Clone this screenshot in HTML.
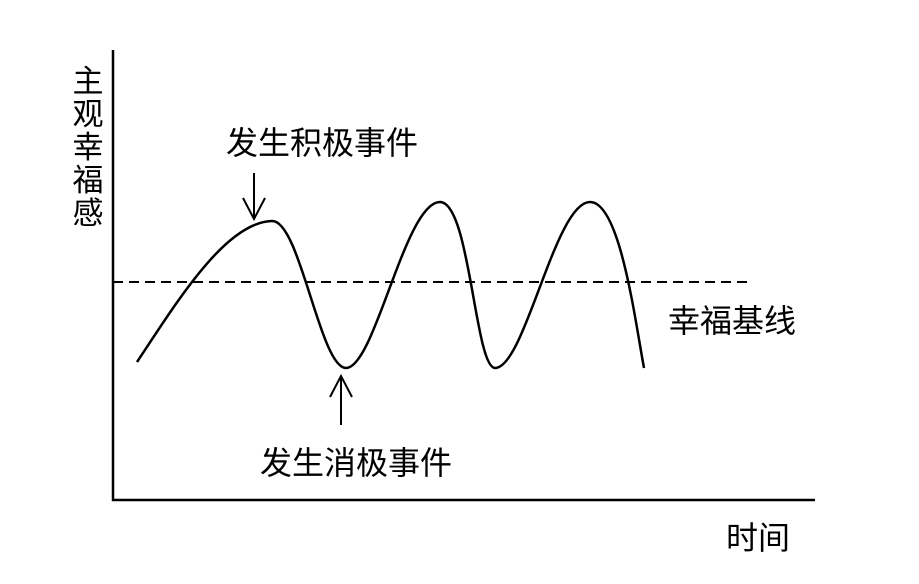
<!DOCTYPE html>
<html><head><meta charset="utf-8"><style>
html,body{margin:0;padding:0;background:#fff;}
svg{display:block;}
text{font-family:"Liberation Sans","Noto Sans CJK SC",sans-serif;fill:#000;}
</style></head><body>
<svg width="919" height="584" viewBox="0 0 919 584" xmlns="http://www.w3.org/2000/svg">
<line x1="113" y1="50" x2="113" y2="501" stroke="#000" stroke-width="2.5"/>
<line x1="112" y1="500" x2="815" y2="500" stroke="#000" stroke-width="2.5"/>
<line x1="113" y1="282" x2="752" y2="282" stroke="#000" stroke-width="2" stroke-dasharray="10,6"/>
<path d="M137,362 C175,305 225,222 272,221 C300,220 320,368 346,368 C375,368 405,202 440,202 C470,202 475,368 495,368 C525,368 555,202 590,202 C620,202 635,320 644,368" fill="none" stroke="#000" stroke-width="2.5"/>
<line x1="254" y1="173" x2="254" y2="219" stroke="#000" stroke-width="2"/>
<polyline points="243,198 254,219 265,198" fill="none" stroke="#000" stroke-width="2"/>
<line x1="341" y1="376" x2="341" y2="425" stroke="#000" stroke-width="2"/>
<polyline points="330,397 341,376 352,397" fill="none" stroke="#000" stroke-width="2"/>
<text x="322" y="154" font-size="32" text-anchor="middle">发生积极事件</text>
<text x="356" y="474" font-size="32" text-anchor="middle">发生消极事件</text>
<text x="668" y="332" font-size="32">幸福基线</text>
<text x="726" y="549" font-size="32">时间</text>
<text x="88" y="92" font-size="31" text-anchor="middle">主</text>
<text x="88" y="125" font-size="31" text-anchor="middle">观</text>
<text x="88" y="158" font-size="31" text-anchor="middle">幸</text>
<text x="88" y="191" font-size="31" text-anchor="middle">福</text>
<text x="88" y="224" font-size="31" text-anchor="middle">感</text>
</svg>
</body></html>
